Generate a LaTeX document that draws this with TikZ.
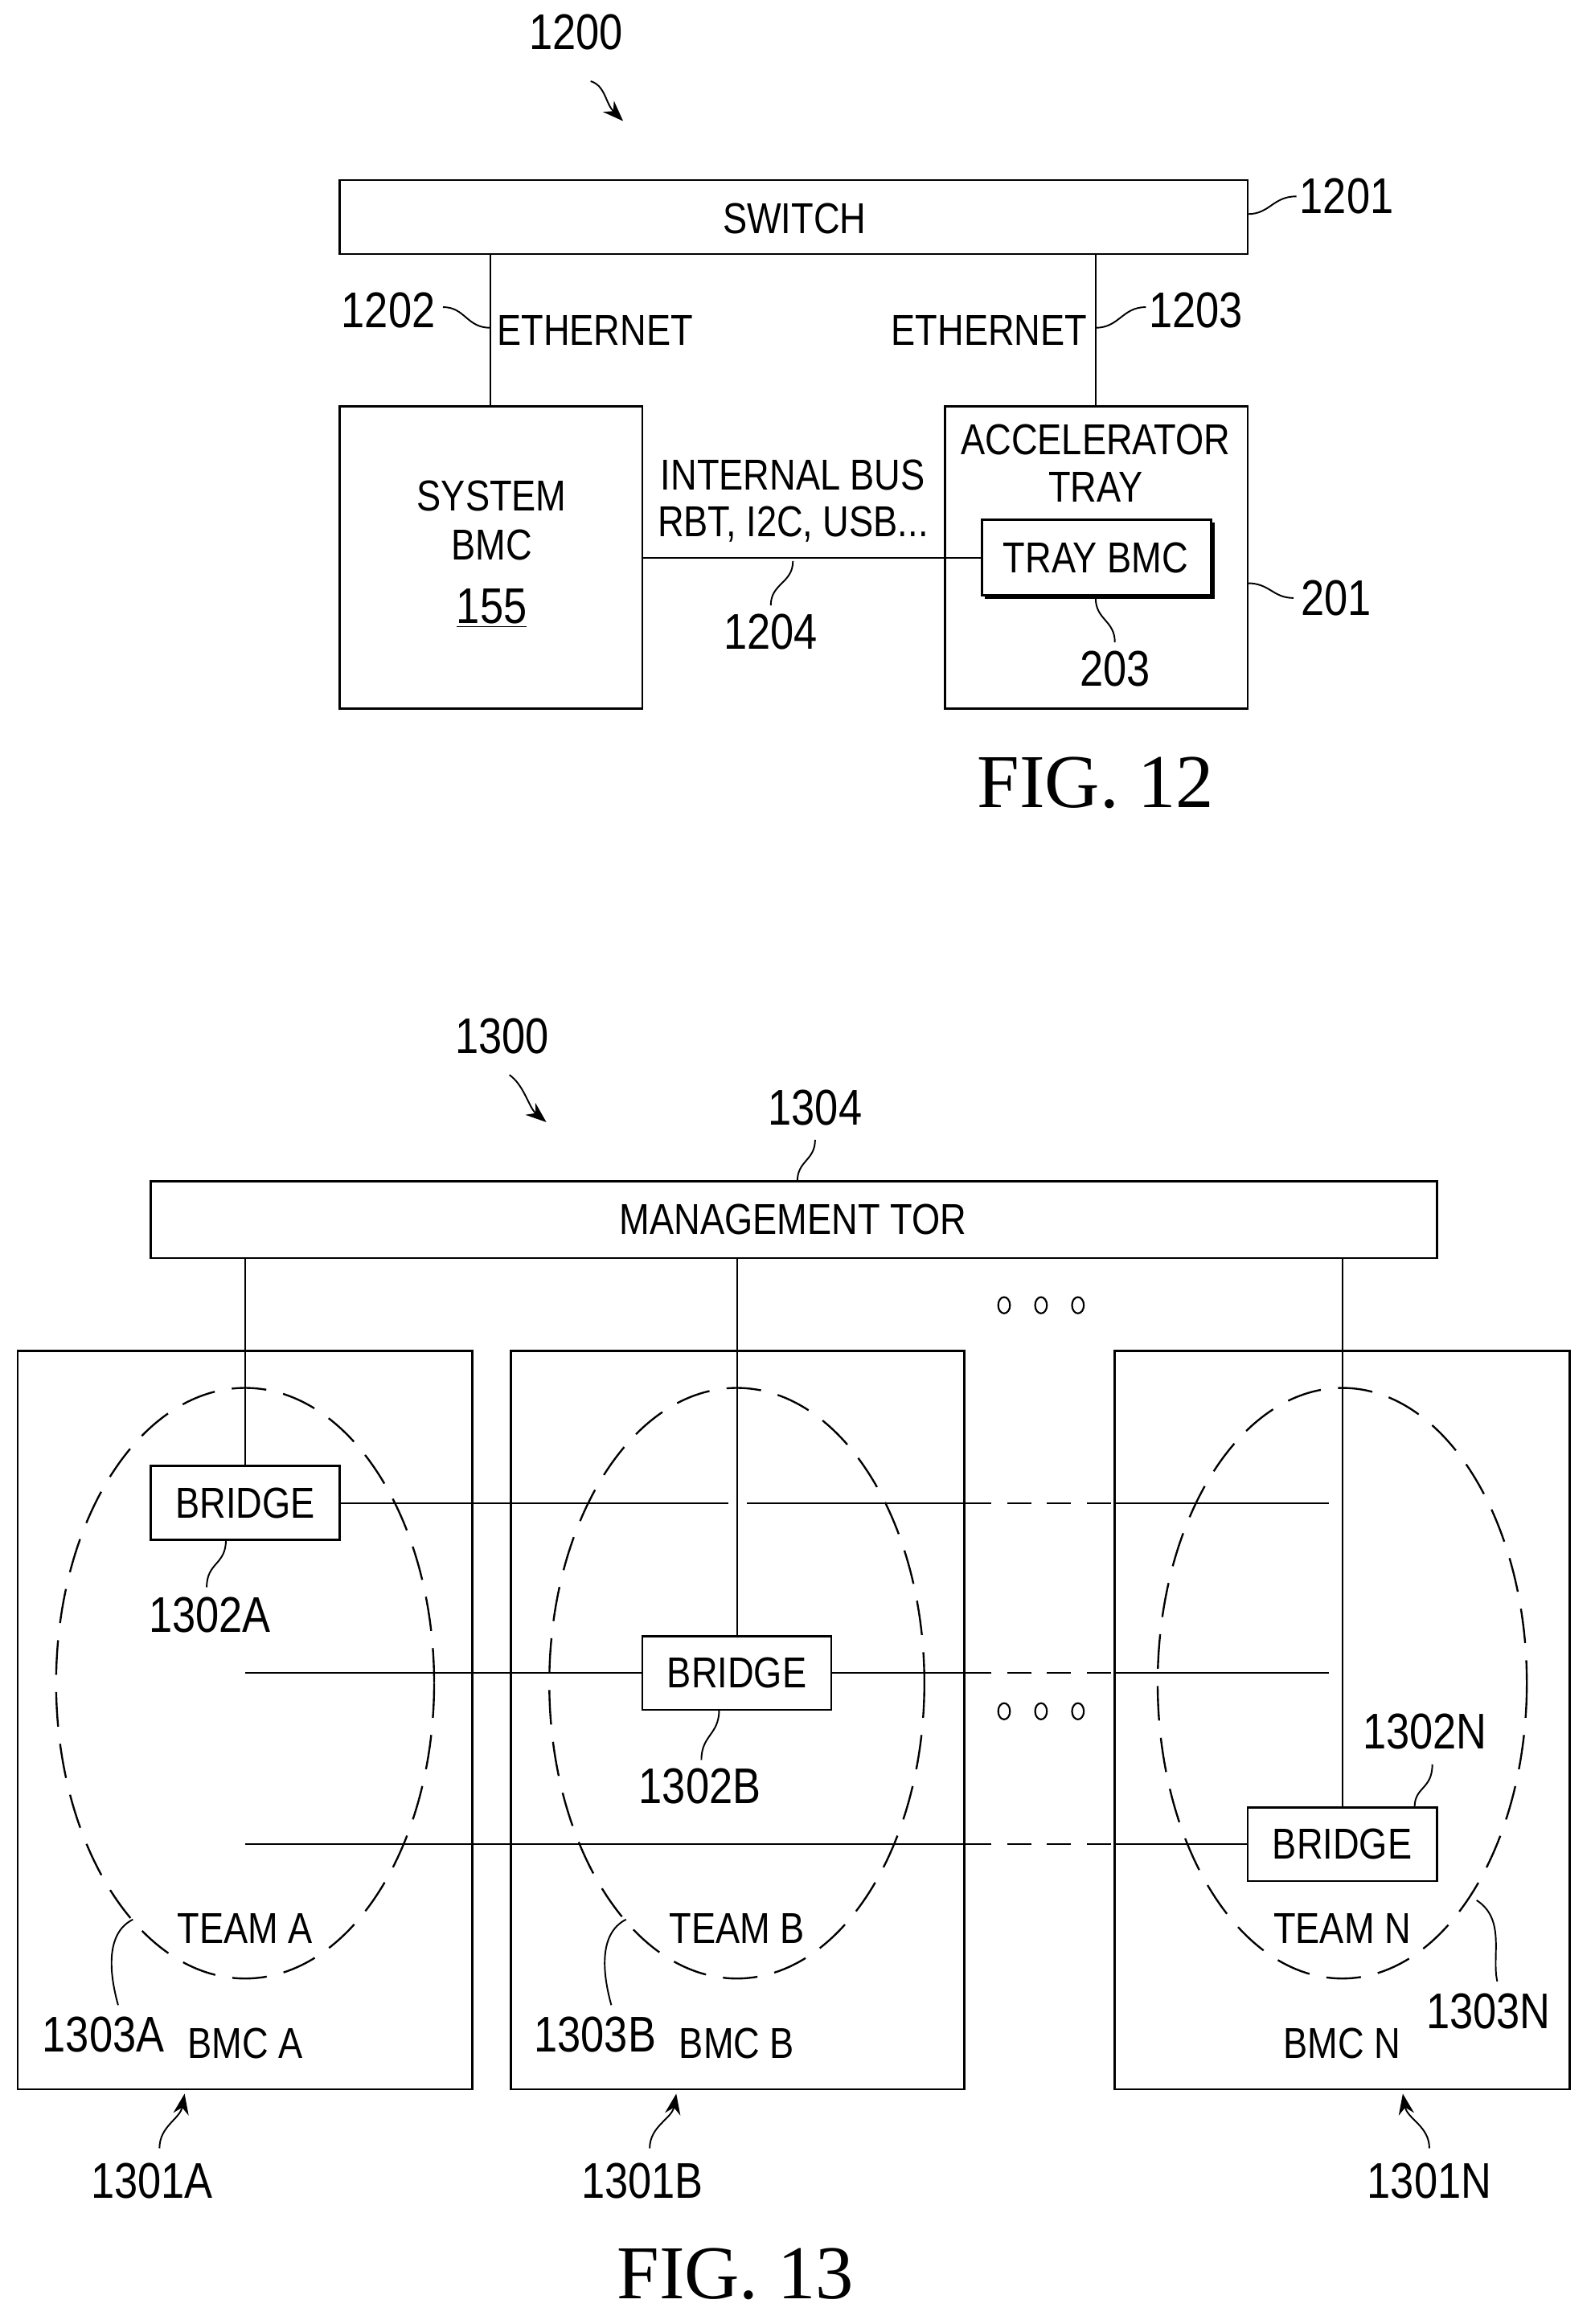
\documentclass[tikz,border=0pt]{standalone}
\usepackage{fontspec}
\setmainfont{Liberation Sans}[FakeStretch=0.84]
\newfontfamily\figfont{Liberation Serif}
\usetikzlibrary{arrows.meta}
\begin{document}
\begin{tikzpicture}[x=0.03cm,y=-0.03cm,
 box/.style={draw,line width=1.3pt},
 ln/.style={line width=0.9pt},
 arr/.style={ln,-{Stealth[length=12pt,width=9pt]}},
 lbl/.style={font=\fontsize{25}{29}\selectfont,inner sep=0pt},
 num/.style={font=\fontsize{29}{33}\selectfont,inner sep=0pt},
 fig/.style={font=\figfont\fontsize{44}{50}\selectfont,inner sep=0pt},
 dsh/.style={ln,dash pattern=on 14pt off 9pt},
 ell/.style={line width=1.1pt,dash pattern=on 20pt off 10pt}]
\useasboundingbox (0,0) rectangle (1080,1574);
% ---------- FIG 12
\node[num] (n1200) at (390,22) {1200};
\draw[arr] (400,55) .. controls (410,58) and (410,70) .. (422,82);
\draw[box] (230,122) rectangle (845,172);
\node[lbl] (swt) at (538,148) {SWITCH};
\coordinate (swA) at (332,172); \coordinate (swB) at (742,172);
\draw[box] (230,275) rectangle (435,480);
\coordinate (bmcT) at (332,275); \coordinate (bmcR) at (435,378);
\node[lbl] (t1) at (333,336) {SYSTEM};
\node[lbl] (t2) at (333,369) {BMC};
\node[num] (t3) at (333,412) {\underline{155}};
\draw[box] (640,275) rectangle (845,480);
\coordinate (acT) at (742,275);
\node[lbl] (t4) at (742,298) {ACCELERATOR};
\node[lbl] (t5) at (742,330) {TRAY};
\draw[box] (665,352) rectangle (820,403);
\draw[line width=1.3pt] (822,354) -- (822,405) -- (667,405);
\coordinate (trL) at (665,378);
\node[lbl] (t6) at (742,378) {TRAY BMC};
\draw[ln] (swA) -- (bmcT);
\draw[ln] (swB) -- (acT);
\draw[ln] (bmcR) -- (trL);
\node[lbl] (e1) at (403,224) {ETHERNET};
\node[lbl] (e2) at (670,224) {ETHERNET};
\node[lbl] (ib) at (537,322) {INTERNAL BUS};
\node[lbl] (rb) at (537,355) {RBT, I2C, USB...};
\node[num] (n1201) at (912,133) {1201};
\draw[ln] (845,145) .. controls (860,145) and (862,133) .. (878,133);
\node[num] (n1202) at (263,210) {1202};
\draw[ln] (300,208) .. controls (315,208) and (316,222) .. (332,222);
\node[num] (n1203) at (810,210) {1203};
\draw[ln] (742,222) .. controls (758,222) and (760,208) .. (776,208);
\node[num] (n1204) at (522,428) {1204};
\draw[ln] (537,380) .. controls (537,395) and (522,395) .. (522,410);
\node[num] (n201) at (905,405) {201};
\draw[ln] (845,395) .. controls (860,395) and (862,405) .. (876,405);
\node[num] (n203) at (755,453) {203};
\draw[ln] (742,405) .. controls (742,420) and (755,420) .. (755,435);
\node[fig] (f12) at (742,530) {FIG. 12};
% ---------- FIG 13
\node[num] (n1300) at (340,702) {1300};
\draw[arr] (345,728) .. controls (355,735) and (358,750) .. (370,760);
\node[num] (n1304) at (552,750) {1304};
\draw[ln] (552,772) .. controls (552,786) and (540,786) .. (540,800);
\draw[box] (102,800) rectangle (973,852);
\node[lbl] (tor) at (537,826) {MANAGEMENT TOR};
\foreach \x in {680,705,730} {\draw[line width=1pt] (\x,884) ellipse (4 and 5.5);
 \draw[line width=1pt] (\x,1159) ellipse (4 and 5.5);}
\draw[box] (12,915) rectangle (320,1415);
\draw[box] (346,915) rectangle (653,1415);
\draw[box] (755,915) rectangle (1063,1415);
\draw[ell] (166,1140) ellipse (128 and 200);
\draw[ell] (499,1140) ellipse (127 and 200);
\draw[ell] (909,1140) ellipse (125 and 200);
\node[box,minimum width=128*0.03cm,minimum height=50*0.03cm,lbl] (brA) at (166,1018) {BRIDGE};
\node[box,minimum width=128*0.03cm,minimum height=50*0.03cm,lbl] (brB) at (499,1133) {BRIDGE};
\node[box,minimum width=128*0.03cm,minimum height=50*0.03cm,lbl] (brN) at (909,1249) {BRIDGE};
\coordinate (tA) at (166,852); \coordinate (tB) at (499,852); \coordinate (tN) at (909,852);
\draw[ln] (tA) -- (brA.north);
\draw[ln] (tB) -- (brB.north);
\draw[ln] (tN) -- (brN.north);
% row 1
\coordinate (r1a) at (493,1018); \coordinate (r1b) at (506,1018);
\coordinate (r1c) at (655,1018); \coordinate (r1d) at (755,1018); \coordinate (r1e) at (900,1018);
\draw[ln] (brA.east) -- (r1a); \draw[ln] (r1b) -- (r1c);
\draw[dsh] (r1c) -- (r1d); \draw[ln] (r1d) -- (r1e);
% row 2
\coordinate (r2s) at (166,1133); \coordinate (r2c) at (655,1133);
\coordinate (r2d) at (755,1133); \coordinate (r2e) at (900,1133);
\draw[ln] (r2s) -- (brB.west); \draw[ln] (brB.east) -- (r2c);
\draw[dsh] (r2c) -- (r2d); \draw[ln] (r2d) -- (r2e);
% row 3
\coordinate (r3s) at (166,1249); \coordinate (r3c) at (655,1249); \coordinate (r3d) at (755,1249);
\draw[ln] (r3s) -- (r3c); \draw[dsh] (r3c) -- (r3d); \draw[ln] (r3d) -- (brN.west);
\node[lbl] (ta) at (166,1306) {TEAM A};
\node[lbl] (tb) at (499,1306) {TEAM B};
\node[lbl] (tn) at (909,1306) {TEAM N};
\node[lbl] (ba) at (166,1384) {BMC A};
\node[lbl] (bb) at (499,1384) {BMC B};
\node[lbl] (bn) at (909,1384) {BMC N};
\node[num] (l2a) at (142,1094) {1302A};
\draw[ln] (153,1043) .. controls (153,1060) and (140,1058) .. (140,1075);
\node[num] (l2b) at (474,1210) {1302B};
\draw[ln] (487,1158) .. controls (487,1175) and (475,1175) .. (475,1192);
\node[num] (l2n) at (965,1173) {1302N};
\draw[ln] (970,1195) .. controls (970,1212) and (958,1210) .. (958,1224);
\node[num] (l3a) at (70,1378) {1303A};
\draw[ln] (90,1300) .. controls (70,1310) and (75,1340) .. (80,1358);
\node[num] (l3b) at (403,1378) {1303B};
\draw[ln] (424,1300) .. controls (404,1310) and (409,1340) .. (414,1358);
\node[num] (l3n) at (1008,1362) {1303N};
\draw[ln] (1000,1287) .. controls (1020,1300) and (1010,1325) .. (1014,1342);
\node[num] (l1a) at (103,1477) {1301A};
\draw[arr] (108,1455) .. controls (108,1440) and (122,1435) .. (125,1418);
\node[num] (l1b) at (435,1477) {1301B};
\draw[arr] (440,1455) .. controls (440,1440) and (455,1435) .. (458,1418);
\node[num] (l1n) at (968,1477) {1301N};
\draw[arr] (968,1455) .. controls (968,1440) and (953,1435) .. (950,1418);
\node[fig] (f13) at (498,1540) {FIG. 13};
\end{tikzpicture}
\end{document}
